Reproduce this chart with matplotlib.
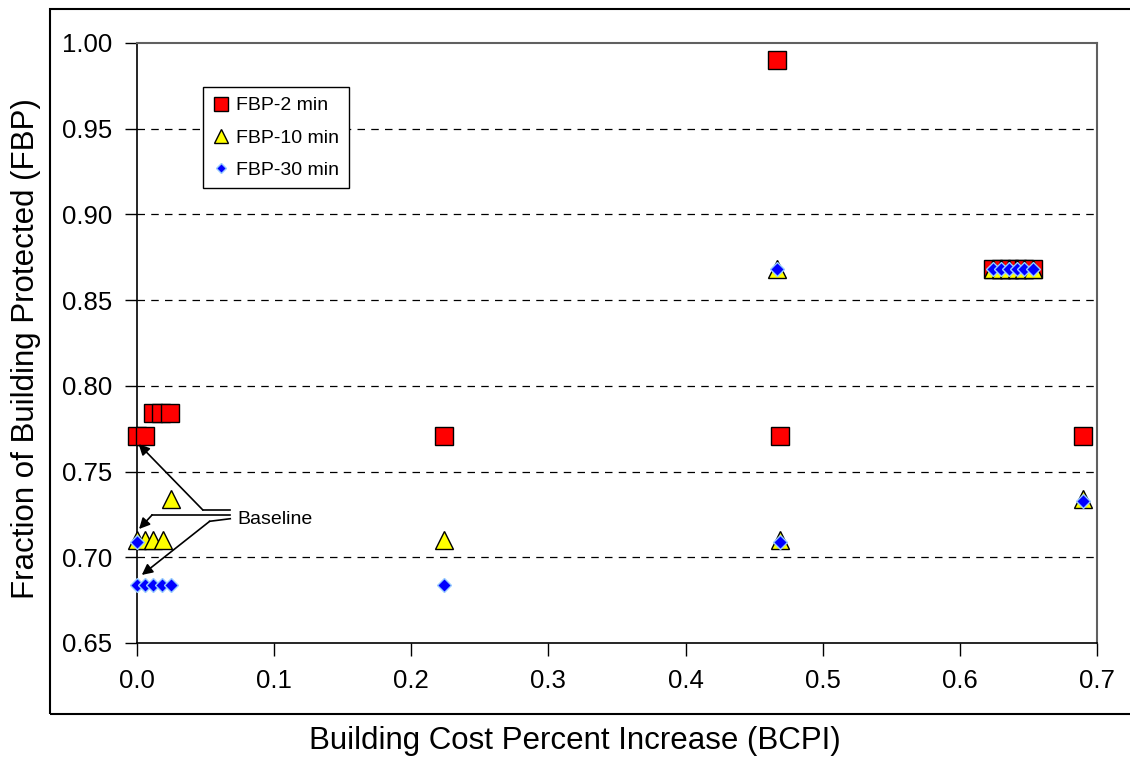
import matplotlib
matplotlib.use("Agg")
import matplotlib.pyplot as plt
from matplotlib.patches import Rectangle
from matplotlib.ticker import FormatStrFormatter

plt.rcParams['font.family'] = ['Liberation Sans', 'DejaVu Sans']

# FBP-2 min
bcpi_2 = [0.0, 0.0055, 0.0115, 0.0175, 0.024, 0.224, 0.467, 0.469,
          0.6245, 0.630, 0.636, 0.6415, 0.647, 0.653, 0.690]
fbp_2 = [0.771, 0.771, 0.784, 0.784, 0.784, 0.771, 0.990, 0.771,
         0.868, 0.868, 0.868, 0.868, 0.868, 0.868, 0.771]

# FBP-10 min
bcpi_10 = [0.0, 0.006, 0.0117, 0.0187, 0.0248, 0.224, 0.467, 0.469,
           0.6245, 0.630, 0.636, 0.6415, 0.647, 0.653, 0.690]
fbp_10 = [0.710, 0.710, 0.710, 0.710, 0.734, 0.710, 0.868, 0.710,
          0.868, 0.868, 0.868, 0.868, 0.868, 0.868, 0.734]

# FBP-30 min
bcpi_30 = [0.0, 0.0, 0.006, 0.0117, 0.018, 0.025, 0.224, 0.467, 0.469,
           0.6245, 0.630, 0.636, 0.6415, 0.647, 0.653, 0.690]
fbp_30 = [0.709, 0.684, 0.684, 0.684, 0.684, 0.684, 0.684, 0.868, 0.709,
          0.868, 0.868, 0.868, 0.868, 0.868, 0.868, 0.733]

yticks = [0.65, 0.70, 0.75, 0.80, 0.85, 0.90, 0.95, 1.00]
xticks = [0.0, 0.1, 0.2, 0.3, 0.4, 0.5, 0.6, 0.7]

fig = plt.figure(figsize=(11.3, 7.59), dpi=100)
ax = fig.add_axes([137/1130, 116/759, 960/1130, 600/759])

# outer chart frame
fig.patches.append(Rectangle((50/1130, 45/759), 1.2, 705/759, transform=fig.transFigure,
                             fill=False, edgecolor='black', linewidth=1.5, zorder=0))

ax.plot(bcpi_2, fbp_2, linestyle='none', marker='s', markersize=12.5,
        markerfacecolor='#ff0000', markeredgecolor='black', markeredgewidth=1.0,
        label='FBP-2 min', zorder=3, clip_on=False)
ax.plot(bcpi_10, fbp_10, linestyle='none', marker='^', markersize=13,
        markerfacecolor='#ffff00', markeredgecolor='black', markeredgewidth=1.0,
        label='FBP-10 min', zorder=4, clip_on=False)
ax.plot(bcpi_30, fbp_30, linestyle='none', marker='D', markersize=7,
        markerfacecolor='#0000ff', markeredgecolor='#99ccff', markeredgewidth=1.0,
        label='FBP-30 min', zorder=5, clip_on=False)

ax.set_xlim(0.0, 0.7)
ax.set_ylim(0.65, 1.00)
ax.set_xticks(xticks)
ax.set_yticks(yticks)
ax.xaxis.set_major_formatter(FormatStrFormatter('%.1f'))
ax.yaxis.set_major_formatter(FormatStrFormatter('%.2f'))
ax.tick_params(axis='y', direction='out', length=9, width=1, labelsize=18.5, pad=9)
ax.tick_params(axis='x', direction='out', length=9, width=1, labelsize=18.5, pad=10)

for y in yticks[1:-1]:
    ax.axhline(y, color='black', linestyle=(0, (6, 5)), linewidth=0.9, zorder=1)

for side in ['left', 'bottom']:
    ax.spines[side].set_color('black')
    ax.spines[side].set_linewidth(1.2)
for side in ['top', 'right']:
    ax.spines[side].set_color('#606060')
    ax.spines[side].set_linewidth(1.5)

ax.set_xlabel('Building Cost Percent Increase (BCPI)', fontsize=22.5)
ax.set_ylabel('Fraction of Building Protected (FBP)', fontsize=22.5)
ax.xaxis.set_label_coords((575 - 137) / 960, -(726 - 643) / 600)
ax.yaxis.set_label_coords(-96/960, 0.49)

leg = ax.legend(loc='upper left', bbox_to_anchor=(66/960, 1 - 44/600), fontsize=14,
                frameon=True, fancybox=False, edgecolor='black', framealpha=1,
                handlelength=0.8, handletextpad=0.4, borderpad=0.5, labelspacing=0.75,
                borderaxespad=0, markerscale=0.75)
leg.get_frame().set_linewidth(1.0)

# Baseline callout
ax.text(0.073, 0.722, 'Baseline', fontsize=14, va='center', ha='left')
callouts = [
    ((0.048, 0.7276), (0.068, 0.7276), (0.0012, 0.766)),
    ((0.011, 0.7247), (0.068, 0.7247), (0.0015, 0.7165)),
    ((0.053, 0.7210), (0.068, 0.7225), (0.0035, 0.6897)),
]
for elbow, end, tip in callouts:
    ax.plot([elbow[0], end[0]], [elbow[1], end[1]], color='black', linewidth=1.2, zorder=6)
    ax.annotate('', xy=tip, xytext=elbow,
                arrowprops=dict(arrowstyle='-|>', color='black', lw=1.2,
                                mutation_scale=16, shrinkA=0, shrinkB=0), zorder=6)

fig.savefig('out.png', dpi=100)
